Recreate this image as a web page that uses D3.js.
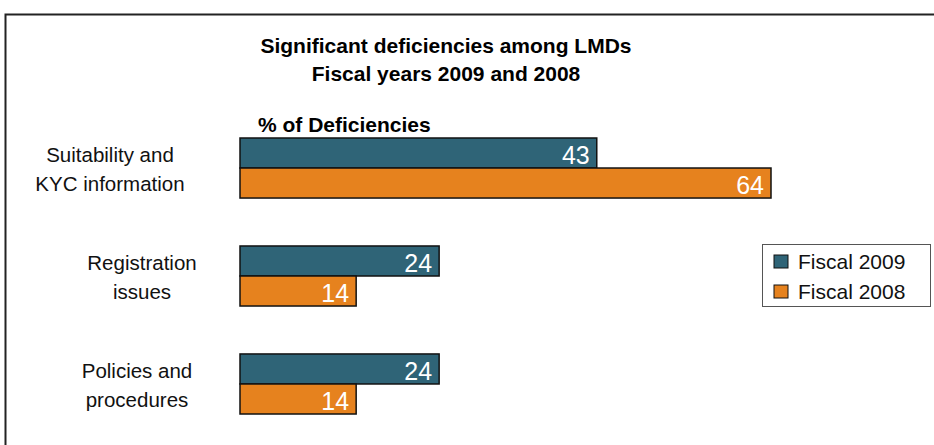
<!DOCTYPE html>
<html>
<head>
<meta charset="utf-8">
<script src="https://cdn.jsdelivr.net/npm/d3@7"></script>
<style>
  body { margin: 0; background: #fff; }
  svg { display: block; font-family: "Liberation Sans", Arial, sans-serif; }
</style>
</head>
<body>
<svg width="934" height="445"></svg>
<script>
const categories = [
    ['Suitability and', 'KYC information'],
    ['Registration', 'issues'],
    ['Policies and', 'procedures'],
];
const fiscal2009 = [43, 24, 24];
const fiscal2008 = [64, 14, 14];
const seriesNames = ['Fiscal 2009', 'Fiscal 2008'];
const colors = ['#2f6477', '#e6821e'];

// label centres as laid out in the original slide
const labelCentres = [110, 142, 137];

const svg = d3.select('svg');

// outer frame (runs off the right and bottom edge)
svg.append('rect')
    .attr('x', 5.5)
    .attr('y', 14.5)
    .attr('width', 1000)
    .attr('height', 500)
    .attr('fill', 'none')
    .attr('stroke', '#222')
    .attr('stroke-width', 2);

// title
svg.append('text')
    .attr('x', 446)
    .attr('y', 53)
    .attr('text-anchor', 'middle')
    .attr('font-size', 21)
    .attr('font-weight', 'bold')
    .text('Significant deficiencies among LMDs');
svg.append('text')
    .attr('x', 446)
    .attr('y', 81)
    .attr('text-anchor', 'middle')
    .attr('font-size', 21)
    .attr('font-weight', 'bold')
    .text('Fiscal years 2009 and 2008');

svg.append('text')
    .attr('x', 258)
    .attr('y', 132)
    .attr('font-size', 21)
    .attr('font-weight', 'bold')
    .text('% of Deficiencies');

const x0 = 240;
const xScale = d3.scaleLinear()
    .domain([0, 64])
    .range([x0, 771]);

const yScale = d3.scaleBand()
    .domain(d3.range(categories.length))
    .range([138, 414])
    .paddingInner(0.444)
    .paddingOuter(0);

const ySub = d3.scaleBand()
    .domain([0, 1])
    .range([0, yScale.bandwidth()]);

const rows = categories.map((c, i) => ({ i, label: c, values: [fiscal2009[i], fiscal2008[i]] }));

const groups = svg.selectAll('.grp')
    .data(rows)
    .enter()
    .append('g')
    .attr('class', 'grp')
    .attr('transform', (d) => `translate(0, ${yScale(d.i)})`);

groups.selectAll('rect')
    .data((d) => d.values.map((v, s) => ({ v, s })))
    .enter()
    .append('rect')
    .attr('x', x0)
    .attr('y', (d) => ySub(d.s))
    .attr('width', (d) => xScale(d.v) - x0)
    .attr('height', ySub.bandwidth())
    .attr('fill', (d) => colors[d.s])
    .attr('stroke', '#111')
    .attr('stroke-width', 1.5);

groups.selectAll('.val')
    .data((d) => d.values.map((v, s) => ({ v, s })))
    .enter()
    .append('text')
    .attr('class', 'val')
    .attr('x', (d) => xScale(d.v) - 7)
    .attr('y', (d) => ySub(d.s) + ySub.bandwidth() / 2 + 11)
    .attr('text-anchor', 'end')
    .attr('font-size', 25)
    .attr('fill', '#fff')
    .text((d) => d.v);

groups.each(function (d) {
    const mid = yScale.bandwidth() / 2;
    d3.select(this).selectAll('.cat')
        .data(d.label)
        .enter()
        .append('text')
        .attr('class', 'cat')
        .attr('x', labelCentres[d.i])
        .attr('y', (t, k) => mid - 6 + k * 29)
        .attr('text-anchor', 'middle')
        .attr('font-size', 20.5)
        .attr('fill', '#111')
        .text((t) => t);
});

// legend
const legend = svg.append('g');
legend.append('rect')
    .attr('x', 762.5)
    .attr('y', 244.5)
    .attr('width', 168)
    .attr('height', 62)
    .attr('fill', '#fff')
    .attr('stroke', '#555')
    .attr('stroke-width', 1);

const items = legend.selectAll('.item')
    .data(seriesNames)
    .enter()
    .append('g')
    .attr('transform', (d, i) => `translate(774, ${255 + i * 30})`);

items.append('rect')
    .attr('width', 14)
    .attr('height', 13)
    .attr('fill', (d, i) => colors[i])
    .attr('stroke', '#111')
    .attr('stroke-width', 1);

items.append('text')
    .attr('x', 24)
    .attr('y', 14)
    .attr('font-size', 21)
    .attr('fill', '#111')
    .text((d) => d);
</script>
</body>
</html>
